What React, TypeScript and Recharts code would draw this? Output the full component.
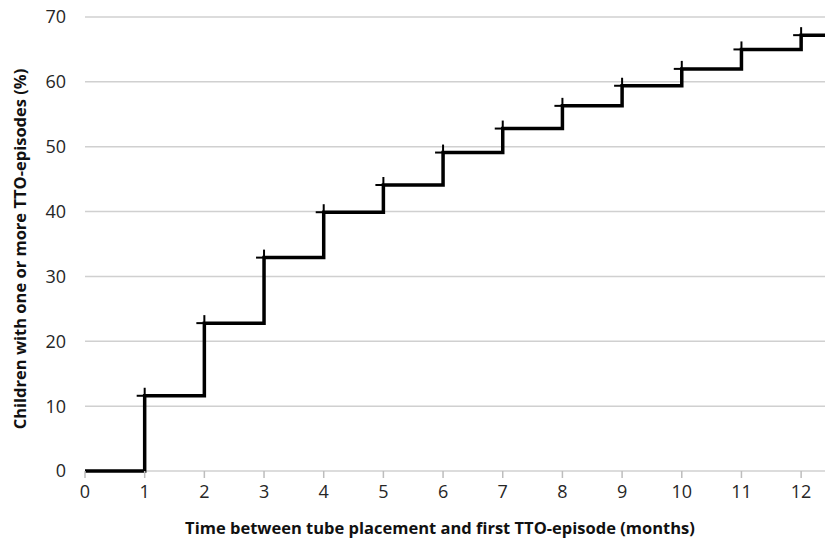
import { LineChart, Line, XAxis, YAxis, CartesianGrid } from "recharts";

const months = [0, 1, 2, 3, 4, 5, 6, 7, 8, 9, 10, 11, 12, 12.4];
const cumulative = [0, 11.6, 22.8, 32.9, 39.9, 44.1, 49.1, 52.8, 56.3, 59.4, 62.0, 65.0, 67.2, 67.2];
const censored = [false, true, true, true, true, true, true, true, true, true, true, true, true, false];
const xTicks = [0, 1, 2, 3, 4, 5, 6, 7, 8, 9, 10, 11, 12];
const yTicks = [0, 10, 20, 30, 40, 50, 60, 70];

const xTitle = "Time between tube placement and first TTO-episode (months)";
const yTitle = "Children with one or more TTO-episodes (%)";

const data = months.map((m, i) => ({ month: m, pct: cumulative[i], mark: censored[i] }));

const font = "'Open Sans', Calibri, sans-serif";
const titleStyle = { fill: "#111", fontSize: 16.5, fontWeight: 700, fontFamily: font };

function PlusMark(props: any) {
  const { cx, cy, payload, index } = props;
  if (!payload || !payload.mark) return <g key={index} />;
  const s = 8;
  return (
    <g key={index}>
      <line x1={cx - s} y1={cy} x2={cx + s} y2={cy} stroke="#000" strokeWidth={2} />
      <line x1={cx} y1={cy - s} x2={cx} y2={cy + s} stroke="#000" strokeWidth={2} />
    </g>
  );
}

export default function App() {
  return (
    <div style={{ position: "absolute", left: 0, top: 0, background: "#fff" }}>
      <LineChart width={825} height={539} data={data} margin={{ top: 17, right: 0, left: 0, bottom: 0 }}>
        <CartesianGrid vertical={false} stroke="#d0d0d0" strokeWidth={1.5} />
        <XAxis
          dataKey="month"
          type="number"
          domain={[0, 12.4]}
          ticks={xTicks}
          allowDataOverflow
          height={68}
          axisLine={false}
          tickLine={{ stroke: "#bdbdbd", strokeWidth: 1.5 }}
          tickSize={7}
          tickMargin={7}
          tick={{ fill: "#262626", fontSize: 18, fontFamily: font }}
          label={{
            content: () => (
              <text x={440} y={534} textAnchor="middle" style={titleStyle}>
                {xTitle}
              </text>
            ),
          }}
        />
        <YAxis
          type="number"
          domain={[0, 70]}
          ticks={yTicks}
          width={85}
          axisLine={false}
          tickLine={false}
          tickSize={0}
          tickMargin={19}
          tick={{ fill: "#262626", fontSize: 18, fontFamily: font }}
          label={{
            content: () => (
              <text
                x={26}
                y={249}
                textAnchor="middle"
                transform="rotate(-90 26 249)"
                style={titleStyle}
              >
                {yTitle}
              </text>
            ),
          }}
        />
        <Line
          type="stepAfter"
          dataKey="pct"
          stroke="#000"
          strokeWidth={3.5}
          dot={PlusMark}
          activeDot={false}
          isAnimationActive={false}
        />
      </LineChart>
    </div>
  );
}
